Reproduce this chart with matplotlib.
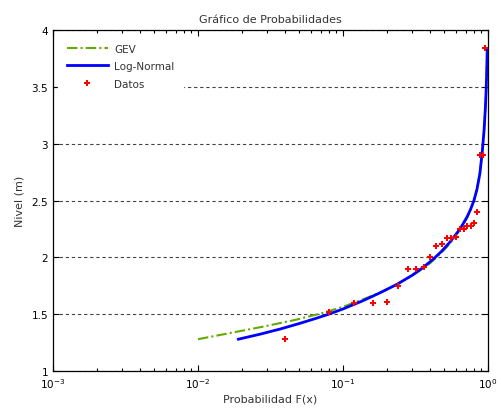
import matplotlib
matplotlib.use("Agg")
import matplotlib.pyplot as plt
from matplotlib.ticker import LogLocator, FixedLocator

# Fitted GEV quantile curve (probability, level)
gev_p = [0.010, 0.016, 0.028, 0.047, 0.072, 0.100, 0.137, 0.180, 0.235, 0.300,
         0.356, 0.400, 0.450, 0.520, 0.600, 0.670, 0.720, 0.760, 0.800, 0.840,
         0.880, 0.915, 0.940, 0.960, 0.972, 0.985]
gev_y = [1.28, 1.33, 1.39, 1.45, 1.51, 1.565, 1.63, 1.69, 1.76, 1.84,
         1.90, 1.95, 2.01, 2.09, 2.19, 2.28, 2.35, 2.42, 2.50, 2.60,
         2.74, 2.94, 3.12, 3.32, 3.48, 3.78]

# Fitted Log-Normal quantile curve (probability, level)
logn_p = [0.019, 0.027, 0.037, 0.050, 0.065, 0.081, 0.100, 0.137, 0.180, 0.235,
          0.300, 0.356, 0.420, 0.480, 0.547, 0.620, 0.670, 0.720, 0.760, 0.800,
          0.840, 0.880, 0.915, 0.940, 0.960, 0.972, 0.981, 0.988]
logn_y = [1.280, 1.325, 1.370, 1.418, 1.463, 1.503, 1.546, 1.618, 1.688, 1.762,
          1.842, 1.910, 1.985, 2.055, 2.135, 2.225, 2.290, 2.360, 2.425, 2.500,
          2.600, 2.740, 2.940, 3.120, 3.320, 3.480, 3.640, 3.830]

# Observed levels with their empirical non-exceedance probabilities
datos_p = [0.04, 0.08, 0.12, 0.16, 0.20, 0.24, 0.28, 0.32, 0.36, 0.40,
           0.44, 0.48, 0.52, 0.56, 0.60, 0.64, 0.68, 0.72, 0.76, 0.80,
           0.84, 0.88, 0.92, 0.96]
datos_y = [1.28, 1.52, 1.60, 1.60, 1.61, 1.75, 1.90, 1.90, 1.915, 2.00,
           2.10, 2.12, 2.17, 2.17, 2.18, 2.25, 2.25, 2.28, 2.28, 2.30,
           2.40, 2.90, 2.90, 3.84]

y_ticks = [1, 1.5, 2, 2.5, 3, 3.5, 4]
y_labels = ["1", "1.5", "2", "2.5", "3", "3.5", "4"]

plt.rcParams["font.family"] = ["DejaVu Sans"]
text_color = "#333333"

fig = plt.figure(figsize=(5.01, 4.14), dpi=100)
ax = fig.add_axes([0.1058, 0.1014, 0.974 - 0.1058, 0.925 - 0.1014])

ax.plot(gev_p, gev_y, color="#64AA00", lw=1.5, linestyle=(0, (5, 1.5, 1, 1.5)),
        label="GEV", zorder=3)
ax.plot(logn_p, logn_y, color="#0000FF", lw=2.0, label="Log-Normal", zorder=4)
ax.plot(datos_p, datos_y, linestyle="none", marker="P", color="#FF0000",
        markersize=4.5, markeredgewidth=0, label="Datos", zorder=5)

ax.set_xscale("log")
ax.set_xlim(1e-3, 1)
ax.set_ylim(1, 4)
ax.yaxis.set_major_locator(FixedLocator(y_ticks))
ax.set_yticklabels(y_labels)
ax.xaxis.set_major_locator(LogLocator(base=10, numticks=10))
ax.xaxis.set_minor_locator(LogLocator(base=10, subs=range(2, 10), numticks=20))

ax.grid(True, axis="y", color="#444444", linestyle=(0, (3, 2.5)), lw=0.8)
ax.grid(False, axis="x", which="both")
ax.set_axisbelow(True)

ax.tick_params(which="both", direction="in", top=True, right=True,
               labelsize=7.5, colors="black", width=0.8)
ax.tick_params(which="major", length=4)
ax.tick_params(which="minor", length=2.5)
for s in ax.spines.values():
    s.set_linewidth(0.9)
    s.set_color("black")

ax.set_title("Gráfico de Probabilidades", fontsize=8, color=text_color, pad=6)
ax.set_xlabel("Probabilidad F(x)", fontsize=8, color=text_color, labelpad=3)
ax.set_ylabel("Nivel (m)", fontsize=8, color=text_color, labelpad=5)

leg = ax.legend(loc="upper left", fontsize=7.5, handlelength=4, handletextpad=0.6,
                labelspacing=0.72, borderpad=0.8, frameon=True, fancybox=False,
                framealpha=1.0, edgecolor="white", facecolor="white",
                borderaxespad=0.5)
for t in leg.get_texts():
    t.set_color(text_color)

fig.savefig("out.png", dpi=100)
